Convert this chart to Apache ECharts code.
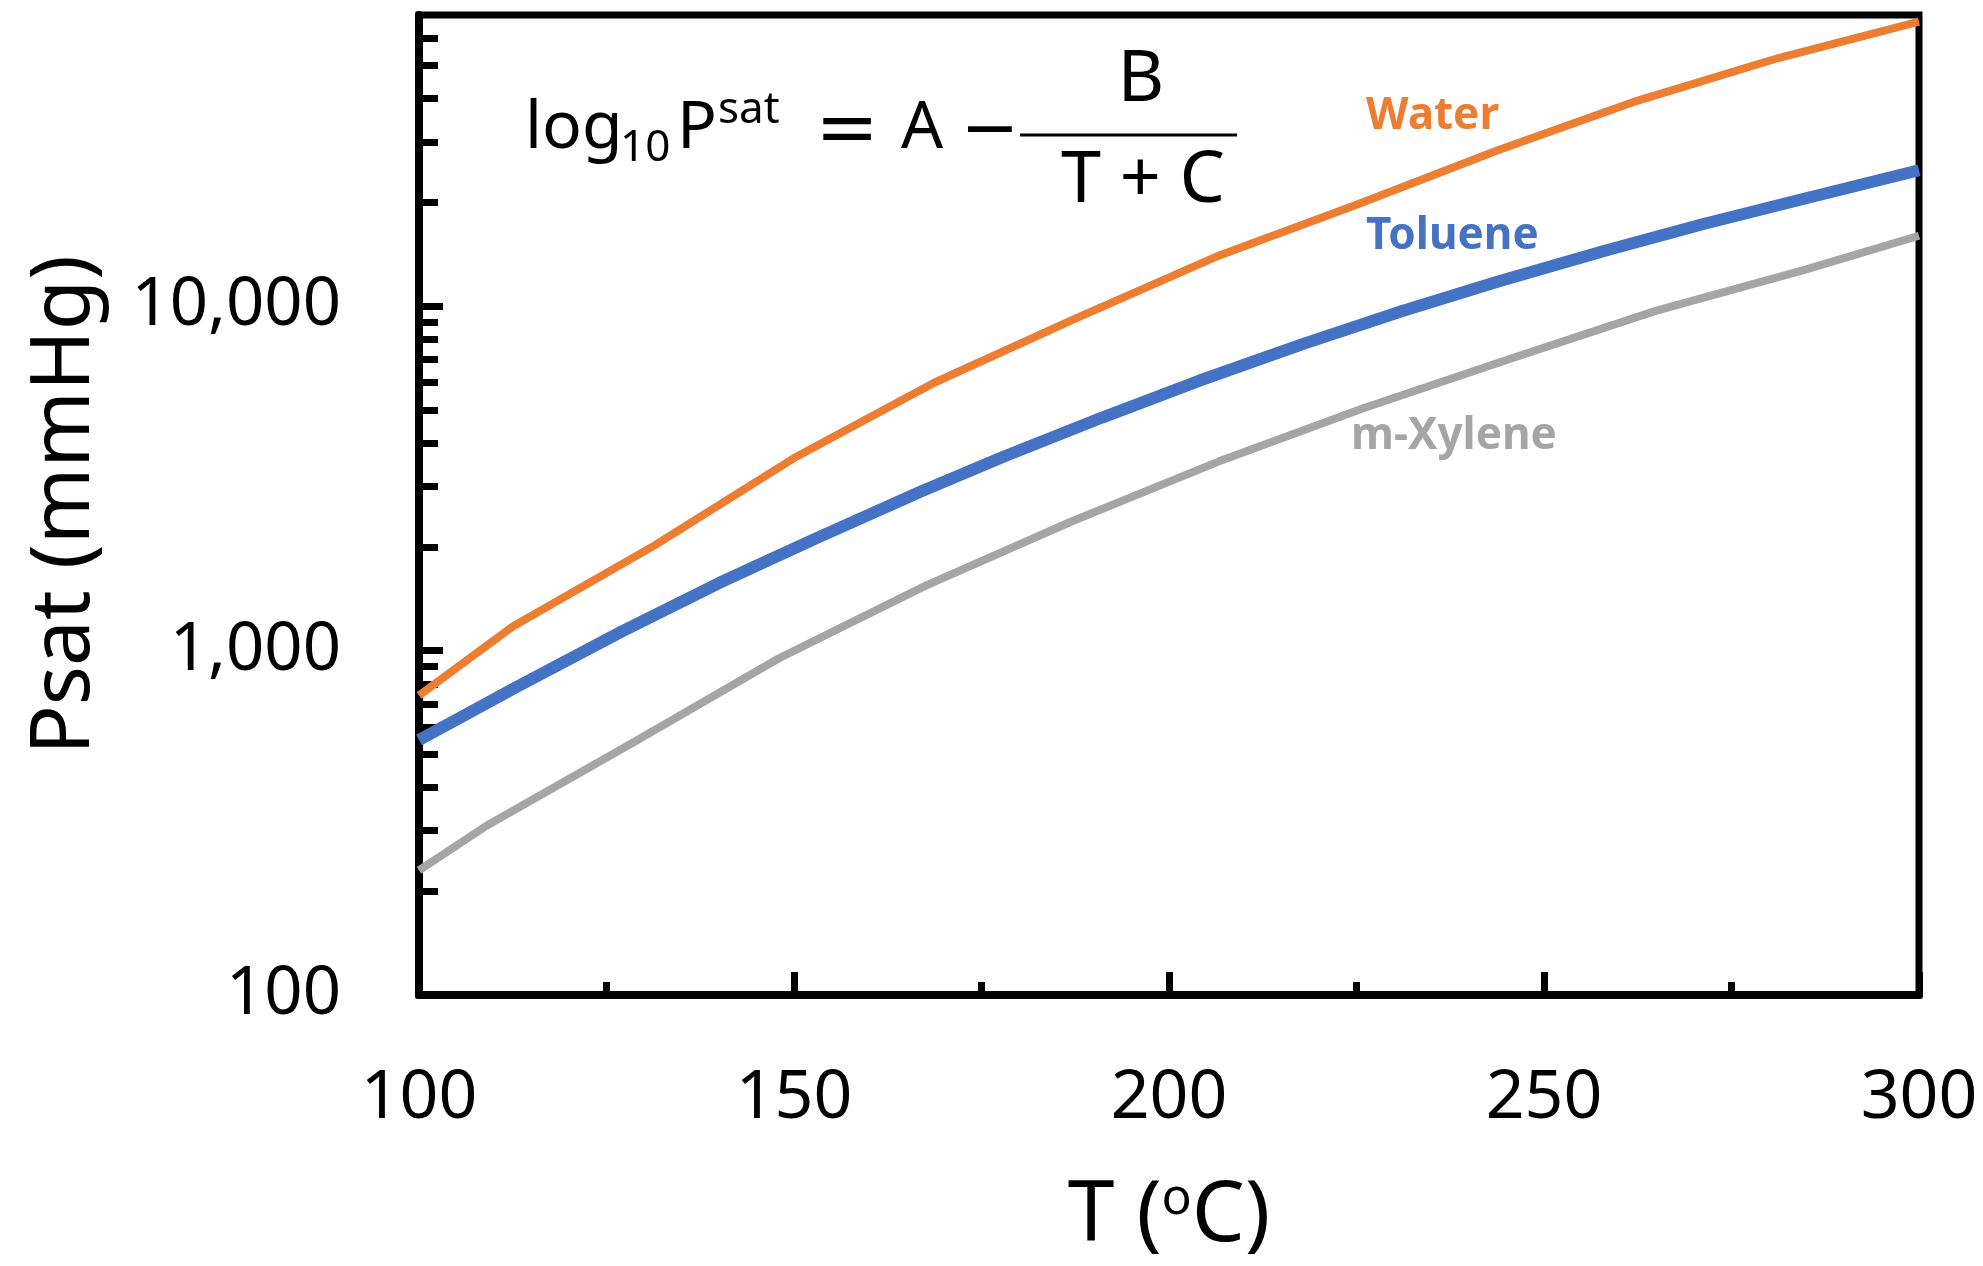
<!DOCTYPE html>
<html>
<head>
<meta charset="utf-8">
<script src="https://cdn.jsdelivr.net/npm/echarts@6/dist/echarts.min.js"></script>
<style>
    html, body { margin: 0; padding: 0; background: #fff; }
    #chart { width: 1983px; height: 1266px; }
</style>
</head>
<body>
<div id="chart"></div>
<script>
// vapour pressure (mmHg) vs temperature (degC)
let waterT = [100, 112.5, 131.25, 150, 168.75, 187.5, 206.25, 225, 243.75, 262.5, 281.25, 300];
let waterP = [740, 1175, 2010, 3620, 6000, 9200, 13900, 19700, 28300, 39500, 52500, 67000];

let tolueneT = [100, 113, 127, 140, 153, 167, 178, 191, 204, 218, 231, 244, 258, 271, 284, 300];
let tolueneP = [550, 784, 1135, 1570, 2120, 2900, 3660, 4740, 6070, 7780, 9660, 11800, 14450, 17260, 20320, 24800];

let xyleneT = [100, 109, 128.5, 148, 167.5, 187, 206.5, 226, 245.5, 265, 284.5, 300];
let xyleneP = [230, 310, 540, 950, 1540, 2370, 3530, 5060, 7030, 9700, 12700, 16000];

let yMajorTicks = [100, 1000, 10000];
let yMinorTicks = [200, 300, 400, 500, 600, 700, 800, 900,
    2000, 3000, 4000, 5000, 6000, 7000, 8000, 9000,
    20000, 30000, 40000, 50000, 60000];

let font = 'Noto Sans';
let mathSym = 'DejaVu Sans';

let chart = echarts.init(document.getElementById('chart'));

let lineSeries = (name, ts, ps, color, width) => ({
    name: name,
    type: 'line',
    data: ts.map((t, i) => [t, ps[i]]),
    showSymbol: false,
    lineStyle: { color: color, width: width },
    z: 3
});

let txt = (text, x, y, size, opts) => ({
    type: 'text',
    style: Object.assign({
        text: text, x: x, y: y,
        fontFamily: font, fontSize: size, fill: '#000',
        textVerticalAlign: 'middle'
    }, opts || {})
});

let option = {
    animation: false,
    grid: {
        left: 419, right: 64, top: 15, bottom: 271,
        show: true, borderColor: '#000', borderWidth: 7
    },
    xAxis: {
        type: 'value',
        min: 100, max: 300, interval: 50,
        axisLine: { lineStyle: { color: '#000', width: 8 } },
        axisTick: { inside: true, length: 23, lineStyle: { color: '#000', width: 7 } },
        minorTick: { show: true, splitNumber: 2, length: 13, lineStyle: { color: '#000', width: 7 } },
        splitLine: { show: false },
        axisLabel: { margin: 70, fontFamily: font, fontSize: 68, color: '#000' },
        name: '{n|T (}{s|o}{n|C)}',
        nameLocation: 'middle',
        nameGap: 180,
        nameTextStyle: {
            rich: {
                n: { fontFamily: font, fontSize: 84, color: '#000' },
                s: { fontFamily: font, fontSize: 50, color: '#000', verticalAlign: 'top' }
            }
        }
    },
    yAxis: [{
        type: 'log', logBase: 10,
        min: 100, max: 70000,
        axisLine: { lineStyle: { color: '#000', width: 8 } },
        axisTick: { inside: true, length: 24, customValues: yMajorTicks, lineStyle: { color: '#000', width: 7 } },
        splitLine: { show: false },
        axisLabel: {
            margin: 78, fontFamily: font, fontSize: 67, color: '#000',
            customValues: yMajorTicks,
            formatter: (v) => Number(v).toLocaleString('en-US')
        },
        name: 'Psat (mmHg)',
        nameLocation: 'middle',
        nameGap: 312,
        nameTextStyle: { fontFamily: font, fontSize: 82, color: '#000' }
    }, {
        // minor decade ticks
        type: 'log', logBase: 10,
        min: 100, max: 70000,
        position: 'left',
        axisLine: { show: false },
        axisTick: { inside: true, length: 19, customValues: yMinorTicks, lineStyle: { color: '#000', width: 7 } },
        axisLabel: { show: false },
        splitLine: { show: false }
    }],
    series: [
        lineSeries('Water', waterT, waterP, '#ED7D31', 8),
        lineSeries('Toluene', tolueneT, tolueneP, '#4472C4', 12),
        lineSeries('m-Xylene', xyleneT, xyleneP, '#A5A5A5', 8)
    ],
    graphic: [
        // Antoine equation
        txt('log', 525, 129, 66),
        txt('10', 620, 148, 44),
        txt('P', 677, 129, 66),
        txt('sat', 718, 110, 44),
        txt('=', 847, 133, 76, { fontFamily: mathSym, textAlign: 'center' }),
        txt('A', 922, 129, 66, { textAlign: 'center' }),
        txt('\u2212', 990, 133, 70, { fontFamily: mathSym, textAlign: 'center' }),
        { type: 'line', shape: { x1: 1020, y1: 135, x2: 1237, y2: 135 }, style: { stroke: '#000', lineWidth: 3 } },
        txt('B', 1141, 80, 72, { textAlign: 'center' }),
        txt('T + C', 1143, 181, 72, { textAlign: 'center' }),
        // curve labels
        txt('Water', 1366, 116, 44, { fontWeight: 'bold', fill: '#ED7D31' }),
        txt('Toluene', 1366, 236, 44, { fontWeight: 'bold', fill: '#4472C4' }),
        txt('m-Xylene', 1351, 436, 44, { fontWeight: 'bold', fill: '#A5A5A5' })
    ]
};

chart.setOption(option);
</script>
</body>
</html>
